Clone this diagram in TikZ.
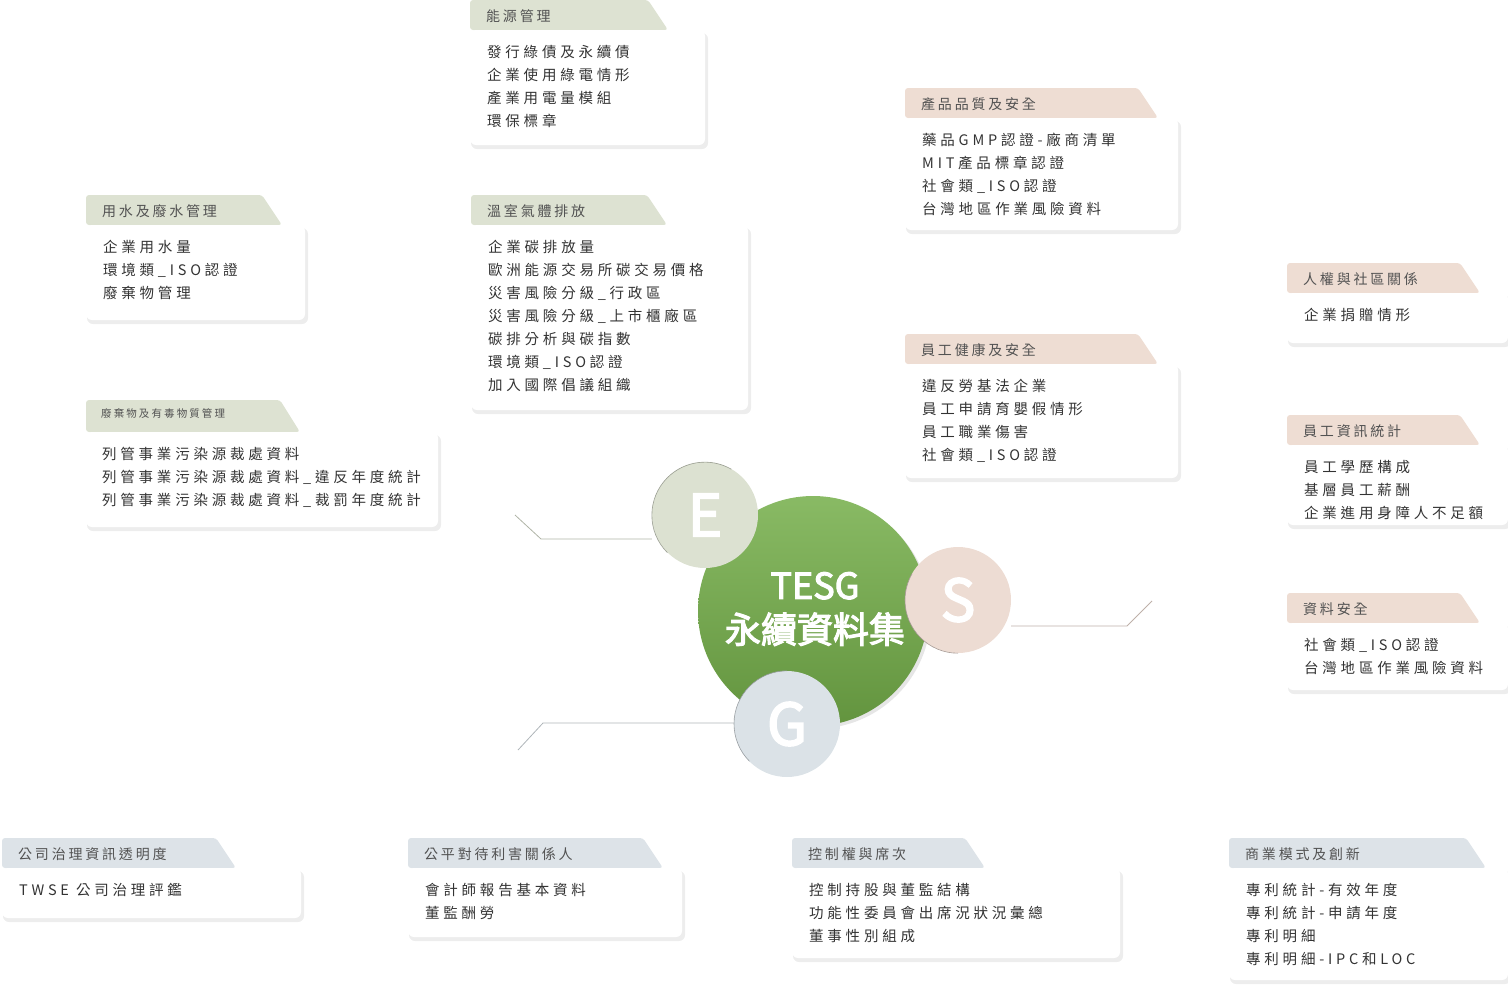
\documentclass[tikz,border=0pt]{standalone}
\usepackage{fontspec}
\usetikzlibrary{shadows}
\setmainfont{Noto Sans CJK TC}
\newfontfamily\cardfont[LetterSpace=26]{Noto Sans CJK TC}
\newfontfamily\titlefont[LetterSpace=20]{Noto Sans CJK TC}
\newfontfamily\boldfont[FakeBold=3]{Noto Sans CJK TC}
\definecolor{envtab}{HTML}{DDE2D2}
\definecolor{soctab}{HTML}{EEDDD3}
\definecolor{govtab}{HTML}{DDE3E8}
\definecolor{envball}{HTML}{DCE1D1}
\definecolor{socball}{HTML}{EDDCD3}
\definecolor{govball}{HTML}{DBE2E7}
\definecolor{txt}{HTML}{333333}
\definecolor{core}{HTML}{74AE49}
\tikzset{
  cardbody/.style={fill=white, rounded corners=6pt},
  cardshadow/.style={fill=black!7, rounded corners=6pt},
  cardtext/.style={anchor=north west, align=left, inner sep=0pt, text=txt,
    font=\cardfont\fontsize{14.5}{23}\selectfont},
  cardtitle/.style={anchor=west, inner sep=0pt, text=txt!85,
    font=\titlefont\fontsize{14}{16}\selectfont},
  ball/.style={circle, minimum size=106pt, inner sep=0pt, text=white,
    font=\boldfont\fontsize{58}{60}\selectfont},
  link/.style={line width=0.8pt},
}
% #1 name, #2 x, #3 y, #4 tab right, #5 body right, #6 body bottom, #7 colour, #8 title, #9 lines
\newcommand\card[9]{
  \fill[#7, rounded corners=3pt] (#2,#3+30) -- (#2,#3) -- (#4-20,#3) -- (#4,#3+30) -- cycle;
  \node[cardtitle] (#1t) at (#2+16,#3+16) {#8};
  \fill[cardshadow] (#2+1,#3+33) rectangle (#5+3,#6+4);
  \fill[cardbody] (#2,#3+30) rectangle (#5,#6);
  \node[cardtext] (#1b) at (#2+17,#3+45) {#9};
}
\begin{document}
\begin{tikzpicture}[x=1pt, y=-1pt]
  \useasboundingbox (0,0) rectangle (1508,994);

  % environment cards
  \card{energy}{470}{0}{668}{705}{145}{envtab}{能源管理}{發行綠債及永續債\\企業使用綠電情形\\產業用電量模組\\環保標章}
  \card{water}{86}{195}{282}{305}{320}{envtab}{用水及廢水管理}{企業用水量\\環境類\_ISO認證\\廢棄物管理}
  \card{ghg}{471}{195}{667}{748}{410}{envtab}{溫室氣體排放}{企業碳排放量\\歐洲能源交易所碳交易價格\\災害風險分級\_行政區\\災害風險分級\_上市櫃廠區\\碳排分析與碳指數\\環境類\_ISO認證\\加入國際倡議組織}
  \fill[envtab, rounded corners=3pt] (86,432) -- (86,400) -- (280,400) -- (300,432) -- cycle;
  \node[cardtitle, font=\titlefont\fontsize{10.5}{12}\selectfont] (wastet) at (101,414) {廢棄物及有毒物質管理};
  \fill[cardshadow] (87,435) rectangle (441,531);
  \fill[cardbody] (86,432) rectangle (438,527);
  \node[cardtext] (wasteb) at (102,447) {列管事業污染源裁處資料\\列管事業污染源裁處資料\_違反年度統計\\列管事業污染源裁處資料\_裁罰年度統計};

  % social cards
  \card{product}{905}{88}{1158}{1178}{230}{soctab}{產品品質及安全}{藥品GMP認證-廠商清單\\MIT產品標章認證\\社會類\_ISO認證\\台灣地區作業風險資料}
  \card{health}{905}{334}{1158}{1178}{478}{soctab}{員工健康及安全}{違反勞基法企業\\員工申請育嬰假情形\\員工職業傷害\\社會類\_ISO認證}
  \card{rights}{1287}{263}{1480}{1508}{343}{soctab}{人權與社區關係}{企業捐贈情形}
  \card{staff}{1287}{415}{1480}{1508}{525}{soctab}{員工資訊統計}{員工學歷構成\\基層員工薪酬\\企業進用身障人不足額}
  \card{datasec}{1287}{593}{1480}{1508}{690}{soctab}{資料安全}{社會類\_ISO認證\\台灣地區作業風險資料}

  % governance cards
  \card{transp}{2}{838}{236}{301}{918}{govtab}{公司治理資訊透明度}{TWSE 公司治理評鑑}
  \card{fair}{408}{838}{663}{682}{937}{govtab}{公平對待利害關係人}{會計師報告基本資料\\董監酬勞}
  \card{control}{792}{838}{985}{1120}{958}{govtab}{控制權與席次}{控制持股與董監結構\\功能性委員會出席況狀況彙總\\董事性別組成}
  \card{business}{1229}{838}{1486}{1508}{980}{govtab}{商業模式及創新}{專利統計-有效年度\\專利統計-申請年度\\專利明細\\專利明細-IPC和LOC}

  % centre
  \node[circle, minimum size=230pt, inner sep=0pt, top color=core!85!white, bottom color=core!85!black,
    drop shadow={opacity=0.2}] (core) at (813,611) {};
  \node[text=white, align=center, font=\boldfont\fontsize{36}{44}\selectfont] (coret) at (815,609) {TESG\\永續資料集};

  \node[ball, fill=envball] (E) at (705,515) {E};
  \node[ball, fill=socball] (S) at (958,600) {S};
  \node[ball, fill=govball] (G) at (787,724) {G};
  \draw[envball!70!black, line width=0.6pt] (E.south west) arc (225:60:53pt);
  \draw[socball!70!black, line width=0.6pt] (S.south) arc (270:150:53pt);
  \draw[govball!70!black, line width=0.6pt] (G.north) arc (90:225:53pt);

  % connectors
  \coordinate (eend) at (515,515);
  \coordinate (send) at (1152,601);
  \coordinate (gend) at (518,750);
  \draw[link, envball!80!black] (E.west |- 0,539) -- (541,539) -- (eend);
  \draw[link, socball!80!black] (S.east |- 0,626) -- (1127,626) -- (send);
  \draw[link, govball!80!black] (G.west |- 0,723) -- (543,723) -- (gend);
\end{tikzpicture}
\end{document}
